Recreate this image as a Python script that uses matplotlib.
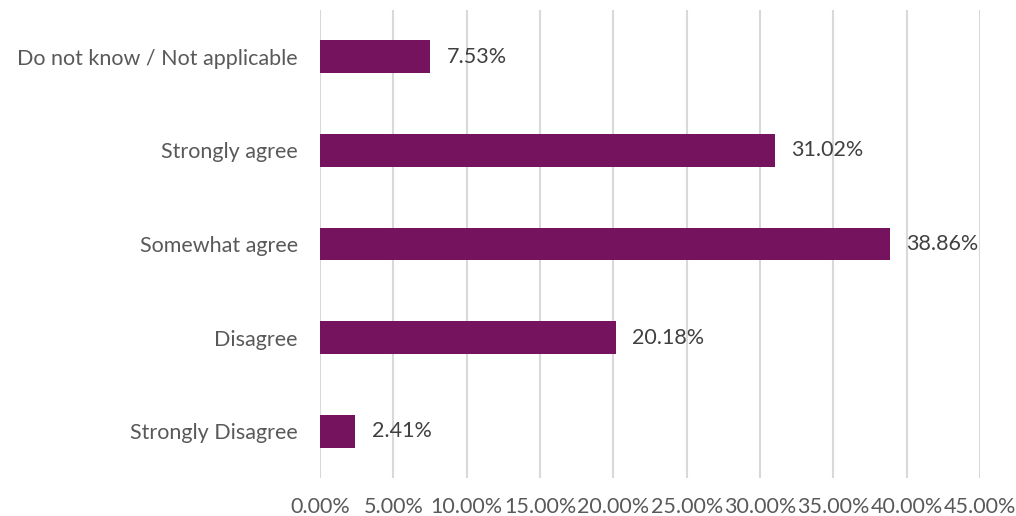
import matplotlib
matplotlib.use("Agg")
import matplotlib.pyplot as plt
from matplotlib.ticker import FuncFormatter

plt.rcParams['font.family'] = ['Lato', 'DejaVu Sans']

# responses, bottom to top
categories = ["Strongly Disagree", "Disagree", "Somewhat agree",
              "Strongly agree", "Do not know / Not applicable"]
shares = [2.41, 20.18, 38.86, 31.02, 7.53]
xticks = [0, 5, 10, 15, 20, 25, 30, 35, 40, 45]

fig = plt.figure(figsize=(10.16, 5.16), dpi=100)
ax = fig.add_axes([0.315, 0.0736, 0.6497, 0.907])

ypos = range(len(categories))
ax.barh(ypos, shares, height=0.35, color="#76135F", zorder=3)
for y, v in zip(ypos, shares):
    ax.text(v + 1.1, y, f"{v:.2f}%", va="center", ha="left",
            fontsize=15.5, color="#404040")

ax.set_xlim(0, 45)
ax.set_ylim(-0.5, len(categories) - 0.5)
ax.set_xticks(xticks)
ax.xaxis.set_major_formatter(FuncFormatter(lambda v, p: f"{v:.2f}%"))
ax.set_yticks(list(ypos))
ax.set_yticklabels(categories)
ax.tick_params(axis="x", length=0, pad=14, labelsize=15.5, labelcolor="#595959")
ax.tick_params(axis="y", length=0, pad=16, labelsize=15.5, labelcolor="#595959")
ax.grid(axis="x", color="#D9D9D9", linewidth=1.5, zorder=0)
for s in ax.spines.values():
    s.set_visible(False)

fig.savefig("out.png", dpi=100)
